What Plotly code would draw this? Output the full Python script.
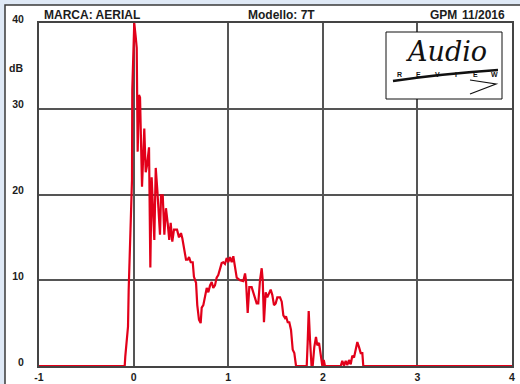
import plotly.graph_objects as go

# Cumulative spectral decay trace: time (ms) vs level (dB)
time_ms = [
    -1.000, -0.094, -0.088, -0.070, -0.059, -0.052, -0.035, -0.027, -0.017, -0.014,
    0.007, 0.022, 0.033, 0.043, 0.057, 0.068, 0.078, 0.089, 0.113, 0.128,
    0.142, 0.163, 0.177, 0.191, 0.219, 0.234, 0.251, 0.279, 0.290, 0.308,
    0.325, 0.342, 0.360, 0.377, 0.392, 0.409, 0.427, 0.459, 0.480, 0.501,
    0.515, 0.536, 0.554, 0.572, 0.586, 0.604, 0.625, 0.638, 0.660, 0.673,
    0.691, 0.709, 0.720, 0.737, 0.755, 0.773, 0.790, 0.808, 0.826, 0.842,
    0.860, 0.878, 0.895, 0.913, 0.931, 0.948, 0.966, 0.984, 1.001, 1.019,
    1.037, 1.054, 1.072, 1.090, 1.125, 1.160, 1.178, 1.188, 1.206, 1.223,
    1.248, 1.265, 1.283, 1.301, 1.318, 1.336, 1.354, 1.365, 1.378, 1.396,
    1.413, 1.431, 1.449, 1.466, 1.484, 1.502, 1.519, 1.548, 1.566, 1.583,
    1.600, 1.611, 1.629, 1.646, 1.664, 1.682, 1.699, 1.717, 1.830, 1.840,
    1.851, 1.865, 1.881, 1.893, 1.910, 1.928, 1.942, 1.960, 1.978, 1.995,
    2.010, 2.023, 2.189, 2.206, 2.224, 2.242, 2.259, 2.277, 2.295, 2.312,
    2.330, 2.348, 2.365, 2.383, 2.401, 2.418, 2.428, 4.000,
]
level_db = [
    0.0, 0.0, 1.1, 3.4, 4.6, 8.9, 14.3, 18.2, 21.7, 32.2,
    40.0, 38.4, 37.1, 25.0, 31.6, 31.3, 26.6, 20.9, 27.7, 22.6,
    23.4, 25.5, 11.5, 22.0, 14.7, 23.1, 20.5, 15.3, 19.9, 19.9,
    15.3, 18.4, 16.7, 14.7, 16.7, 14.5, 15.9, 15.9, 15.0, 15.5,
    14.9, 13.5, 12.4, 12.4, 12.7, 12.1, 12.1, 10.4, 9.7, 7.1,
    5.4, 5.0, 6.8, 7.1, 8.0, 9.1, 8.6, 9.4, 9.8, 9.1,
    9.4, 10.3, 10.6, 11.4, 12.0, 12.1, 11.9, 12.6, 12.1, 12.7,
    12.1, 12.8, 11.2, 10.3, 10.0, 9.9, 10.8, 10.0, 6.2, 9.2,
    9.2, 8.6, 7.7, 7.3, 7.3, 10.0, 11.4, 10.0, 5.1, 8.6,
    8.0, 8.5, 8.9, 8.3, 7.1, 7.3, 8.0, 8.0, 7.5, 5.9,
    5.6, 5.8, 5.1, 5.1, 4.2, 1.9, 1.5, 0.0, 0.0, 2.7,
    6.4, 3.0, 0.0, 0.0, 2.2, 3.4, 2.4, 2.7, 1.3, 0.0,
    0.7, 0.0, 0.0, 0.6, 0.0, 0.6, 0.1, 0.7, 0.2, 1.2,
    1.0, 1.9, 2.8, 2.2, 1.5, 1.5, 0.0, 0.0,
]

x_tick_vals = [-1, 0, 1, 2, 3, 4]
x_tick_text = ["-1", "0", "1", "2", "3", "4"]
y_tick_vals = [0, 10, 20, 30, 40]
y_tick_text = ["0", "10", "20", "30", "40"]

brand = "MARCA: AERIAL"
model = "Modello: 7T"
author = "GPM"
date = "11/2016"
unit = "dB"

W, H = 520, 384
L, R, T, B = 39, 8, 23, 18
pw, ph = W - L - R, H - T - B


def px(xp):
    return (xp - L) / pw


def py(yp):
    return (H - B - yp) / ph


BOLD = dict(family="Liberation Sans, Arial, sans-serif", color="#1c1c1c", weight="bold")

fig = go.Figure()
fig.add_trace(go.Scatter(
    x=time_ms, y=level_db, mode="lines",
    line=dict(color="#e2001a", width=2.2),
    hoverinfo="skip", showlegend=False, cliponaxis=False,
))

shapes = [
    # outer white panel with dark frame
    dict(type="rect", xref="paper", yref="paper",
         x0=px(5), x1=px(530), y0=py(400), y1=py(5),
         fillcolor="white", line=dict(color="#3a3a3a", width=1.5), layer="below"),
    # logo box
    dict(type="rect", xref="paper", yref="paper",
         x0=px(386), x1=px(502), y0=py(99), y1=py(32),
         fillcolor="white", line=dict(color="#111", width=1), layer="above"),
    # logo underline swoosh
    dict(type="path", xref="paper", yref="paper",
         path=f"M {px(393)},{py(81)} Q {px(440)},{py(74)} {px(498)},{py(70)}",
         line=dict(color="#111", width=2.5), layer="above"),
    dict(type="path", xref="paper", yref="paper",
         path=f"M {px(470)},{py(80)} L {px(496)},{py(84)} L {px(470)},{py(94)}",
         line=dict(color="#111", width=1.2), layer="above"),
]

annotations = [
    dict(text=brand, x=px(42), y=py(15), xanchor="left", yanchor="middle"),
    dict(text=model, x=px(281), y=py(15), xanchor="center", yanchor="middle"),
    dict(text=author, x=px(428), y=py(15), xanchor="left", yanchor="middle"),
    dict(text=date, x=px(507), y=py(15), xanchor="right", yanchor="middle"),
]
for a in annotations:
    a.update(xref="paper", yref="paper", showarrow=False,
             font=dict(BOLD, size=12))

annotations.append(dict(text=unit, xref="paper", yref="paper", x=px(25), y=py(68),
                        xanchor="right", yanchor="middle", showarrow=False,
                        font=dict(BOLD, size=10.5)))

# logo lettering
annotations.append(dict(text="<i>Audio</i>", xref="paper", yref="paper",
                        x=px(446), y=py(52), xanchor="center", yanchor="middle",
                        showarrow=False,
                        font=dict(family="DejaVu Serif, serif", size=27, color="#111")))
for letter, xp in zip("REVIEW", [399, 418, 437, 456, 475, 494]):
    annotations.append(dict(text=letter, xref="paper", yref="paper",
                            x=px(xp), y=py(74), xanchor="center", yanchor="middle",
                            showarrow=False,
                            font=dict(family="Liberation Sans, sans-serif", size=7,
                                      color="#111", weight="bold")))

fig.update_layout(
    width=W, height=H,
    margin=dict(l=L, r=R, t=T, b=B, autoexpand=False),
    paper_bgcolor="#dfe9f6",
    plot_bgcolor="white",
    shapes=shapes,
    annotations=annotations,
    xaxis=dict(range=[-1, 4], tickvals=x_tick_vals, ticktext=x_tick_text,
               automargin=False,
               showgrid=True, gridcolor="#555", gridwidth=1.5, zeroline=False,
               showline=True, mirror=True, linecolor="#444", linewidth=2,
               ticks="", tickfont=dict(BOLD, size=10.5), ticklabelstandoff=0),
    yaxis=dict(range=[0, 40], tickvals=y_tick_vals, ticktext=y_tick_text,
               automargin=False,
               showgrid=True, gridcolor="#555", gridwidth=1.5, zeroline=False,
               showline=True, mirror=True, linecolor="#444", linewidth=2,
               ticks="", tickfont=dict(BOLD, size=10.5),
               ticklabelstandoff=11, ticklabelshift=-4),
)

fig.write_html("out.html")
